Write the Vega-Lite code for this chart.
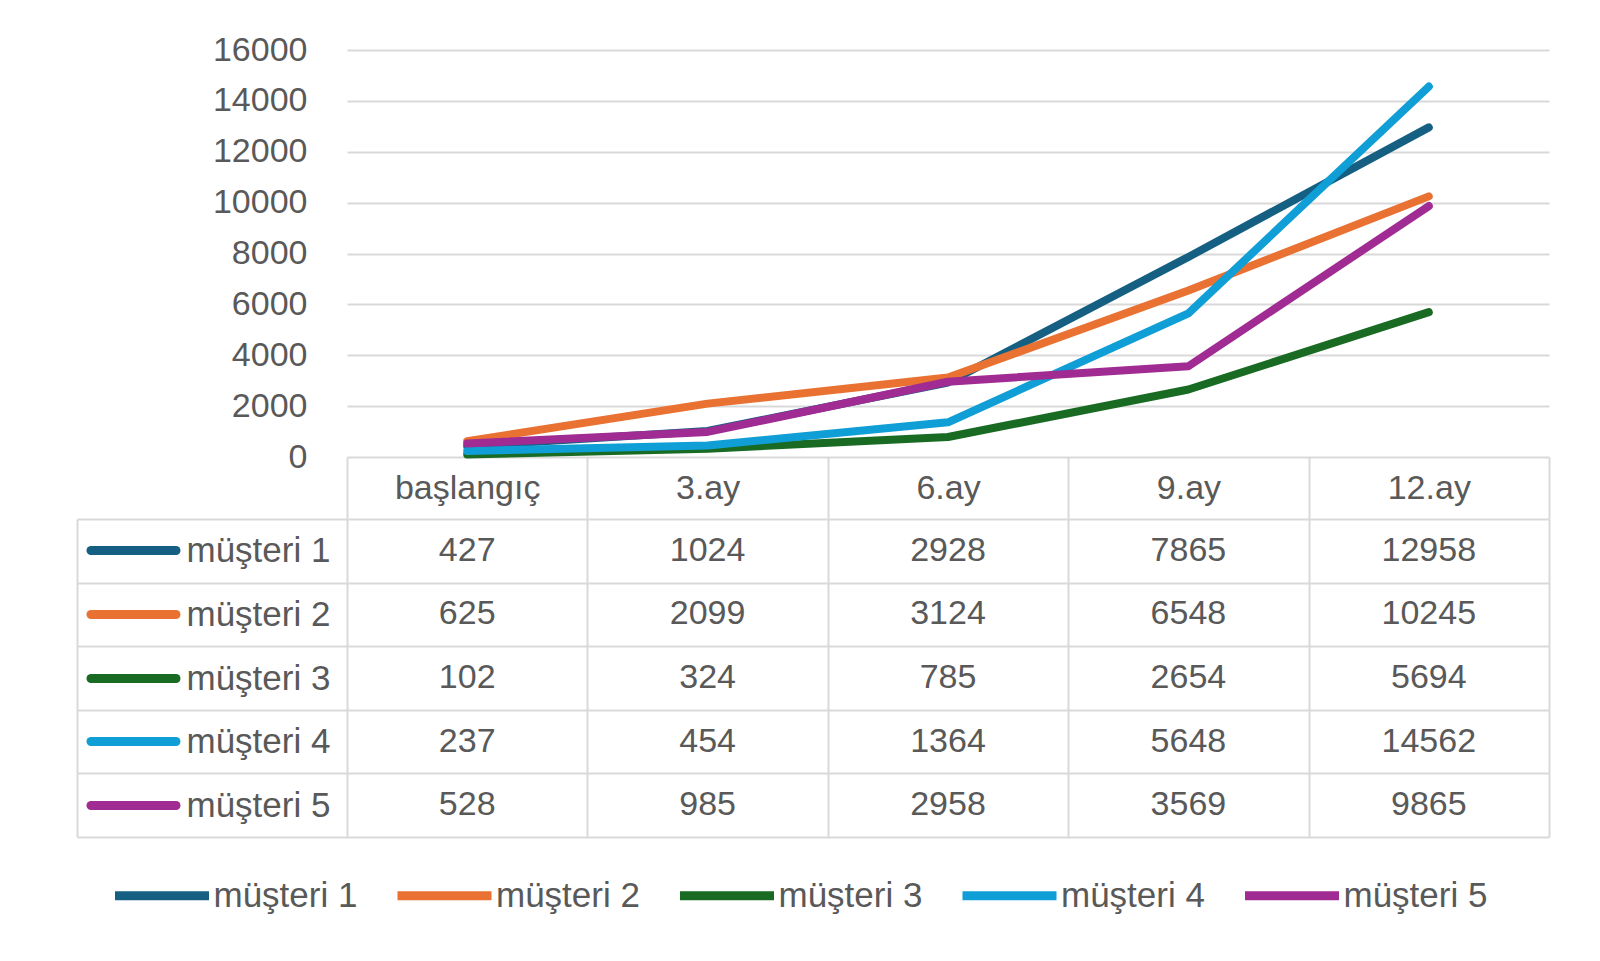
{
  "$schema": "https://vega.github.io/schema/vega-lite/v6.json",
  "background": "white",
  "padding": {"left": 76, "top": 33, "right": 50, "bottom": 20},
  "bounds": "flush",
  "spacing": 62,
  "config": {"view": {"stroke": null}, "font": "Liberation Sans, Arial, sans-serif"},
  "datasets": {
    "veri": [
      {"musteri": "müşteri 1", "donem": "başlangıç", "deger": 427},
      {"musteri": "müşteri 1", "donem": "3.ay", "deger": 1024},
      {"musteri": "müşteri 1", "donem": "6.ay", "deger": 2928},
      {"musteri": "müşteri 1", "donem": "9.ay", "deger": 7865},
      {"musteri": "müşteri 1", "donem": "12.ay", "deger": 12958},
      {"musteri": "müşteri 2", "donem": "başlangıç", "deger": 625},
      {"musteri": "müşteri 2", "donem": "3.ay", "deger": 2099},
      {"musteri": "müşteri 2", "donem": "6.ay", "deger": 3124},
      {"musteri": "müşteri 2", "donem": "9.ay", "deger": 6548},
      {"musteri": "müşteri 2", "donem": "12.ay", "deger": 10245},
      {"musteri": "müşteri 3", "donem": "başlangıç", "deger": 102},
      {"musteri": "müşteri 3", "donem": "3.ay", "deger": 324},
      {"musteri": "müşteri 3", "donem": "6.ay", "deger": 785},
      {"musteri": "müşteri 3", "donem": "9.ay", "deger": 2654},
      {"musteri": "müşteri 3", "donem": "12.ay", "deger": 5694},
      {"musteri": "müşteri 4", "donem": "başlangıç", "deger": 237},
      {"musteri": "müşteri 4", "donem": "3.ay", "deger": 454},
      {"musteri": "müşteri 4", "donem": "6.ay", "deger": 1364},
      {"musteri": "müşteri 4", "donem": "9.ay", "deger": 5648},
      {"musteri": "müşteri 4", "donem": "12.ay", "deger": 14562},
      {"musteri": "müşteri 5", "donem": "başlangıç", "deger": 528},
      {"musteri": "müşteri 5", "donem": "3.ay", "deger": 985},
      {"musteri": "müşteri 5", "donem": "6.ay", "deger": 2958},
      {"musteri": "müşteri 5", "donem": "9.ay", "deger": 3569},
      {"musteri": "müşteri 5", "donem": "12.ay", "deger": 9865}
    ]
  },
  "vconcat": [
    {
      "width": 1202,
      "height": 407,
      "data": {"name": "veri"},
      "mark": {"type": "line", "strokeWidth": 8, "strokeCap": "round", "strokeJoin": "round"},
      "encoding": {
        "x": {
          "field": "donem", "type": "nominal", "bandPosition": 0.5,
          "scale": {"type": "band", "domain": ["başlangıç", "3.ay", "6.ay", "9.ay", "12.ay"], "paddingInner": 0, "paddingOuter": 0},
          "axis": {"title": null, "orient": "bottom", "domain": false, "grid": false, "ticks": true, "tickBand": "extent", "tickSize": 62, "tickWidth": 2, "tickColor": "#D9D9D9", "labelAngle": 0, "labelFontSize": 34, "labelColor": "#595959", "labelBaseline": "middle", "labelPadding": -31}
        },
        "y": {
          "field": "deger", "type": "quantitative",
          "scale": {"domain": [0, 16000], "nice": false, "zero": true},
          "axis": {"title": null, "values": [0, 2000, 4000, 6000, 8000, 10000, 12000, 14000, 16000], "format": "d", "domain": false, "ticks": false, "grid": true, "gridColor": "#D9D9D9", "gridWidth": 2, "labelPadding": 40, "labelFontSize": 34, "labelColor": "#595959"}
        },
        "color": {
          "field": "musteri", "type": "nominal",
          "scale": {"domain": ["müşteri 1", "müşteri 2", "müşteri 3", "müşteri 4", "müşteri 5"], "range": ["#156082", "#E97132", "#196B24", "#0F9ED5", "#A02B93"]},
          "legend": {"title": null, "orient": "none", "direction": "horizontal", "legendX": -236.5, "legendY": 794, "padding": 0, "symbolType": "stroke", "symbolSize": 8836, "symbolStrokeWidth": 9, "labelFontSize": 35, "labelColor": "#595959", "labelOffset": 0, "columnPadding": 21.5}
        }
      }
    },
    {
      "width": 1202,
      "height": 318,
      "data": {"name": "veri"},
      "resolve": {"axis": {"y": "independent"}},
      "layer": [
        {
          "mark": {"type": "text", "fontSize": 34, "color": "#595959"},
          "encoding": {
            "x": {
              "field": "donem", "type": "nominal", "bandPosition": 0.5,
              "scale": {"type": "band", "domain": ["başlangıç", "3.ay", "6.ay", "9.ay", "12.ay"], "paddingInner": 0, "paddingOuter": 0},
              "axis": {"title": null, "labels": false, "ticks": false, "domain": false, "grid": true, "tickBand": "extent", "gridColor": "#D9D9D9", "gridWidth": 2}
            },
            "y": {
              "field": "musteri", "type": "nominal", "bandPosition": 0.5,
              "scale": {"type": "band", "domain": ["müşteri 1", "müşteri 2", "müşteri 3", "müşteri 4", "müşteri 5"], "paddingInner": 0, "paddingOuter": 0},
              "axis": {"title": null, "orient": "left", "domain": false, "grid": true, "tickBand": "extent", "gridColor": "#D9D9D9", "gridWidth": 2, "ticks": true, "tickSize": 270, "tickWidth": 2, "tickColor": "#D9D9D9", "labels": true, "labelAlign": "left", "labelBaseline": "middle", "labelPadding": -109, "labelFontSize": 35, "labelColor": "#595959"}
            },
            "text": {"field": "deger", "type": "quantitative", "format": "d"}
          }
        },
        {
          "mark": {"type": "text", "opacity": 0},
          "encoding": {
            "x": {
              "field": "donem", "type": "nominal", "bandPosition": 0.5,
              "axis": {"title": null, "labels": false, "ticks": false, "domain": false, "grid": true, "tickBand": "extent", "gridColor": "#D9D9D9", "gridWidth": 2}
            },
            "y": {
              "field": "musteri", "type": "nominal", "bandPosition": 0.5,
              "axis": {"title": null, "orient": "left", "offset": 270, "labels": false, "ticks": false, "grid": false, "domain": true, "domainColor": "#D9D9D9", "domainWidth": 2}
            },
            "text": {"field": "deger", "type": "quantitative", "format": "d"}
          }
        },
        {
          "mark": {"type": "text", "opacity": 0},
          "encoding": {
            "x": {
              "field": "donem", "type": "nominal", "bandPosition": 0.5,
              "axis": {"title": null, "labels": false, "ticks": false, "domain": false, "grid": true, "tickBand": "extent", "gridColor": "#D9D9D9", "gridWidth": 2}
            },
            "y": {
              "field": "musteri", "type": "nominal", "bandPosition": 0.5,
              "axis": {
                "title": null, "orient": "left", "offset": 171.5, "labels": false, "grid": false, "domain": false,
                "ticks": true, "tickBand": "center", "tickSize": 85, "tickWidth": 9, "tickCap": "round",
                "tickColor": {
                  "condition": [
                    {"test": "datum.value === 'müşteri 1'", "value": "#156082"},
                    {"test": "datum.value === 'müşteri 2'", "value": "#E97132"},
                    {"test": "datum.value === 'müşteri 3'", "value": "#196B24"},
                    {"test": "datum.value === 'müşteri 4'", "value": "#0F9ED5"}
                  ],
                  "value": "#A02B93"
                }
              }
            },
            "text": {"field": "deger", "type": "quantitative", "format": "d"}
          }
        }
      ]
    }
  ]
}
